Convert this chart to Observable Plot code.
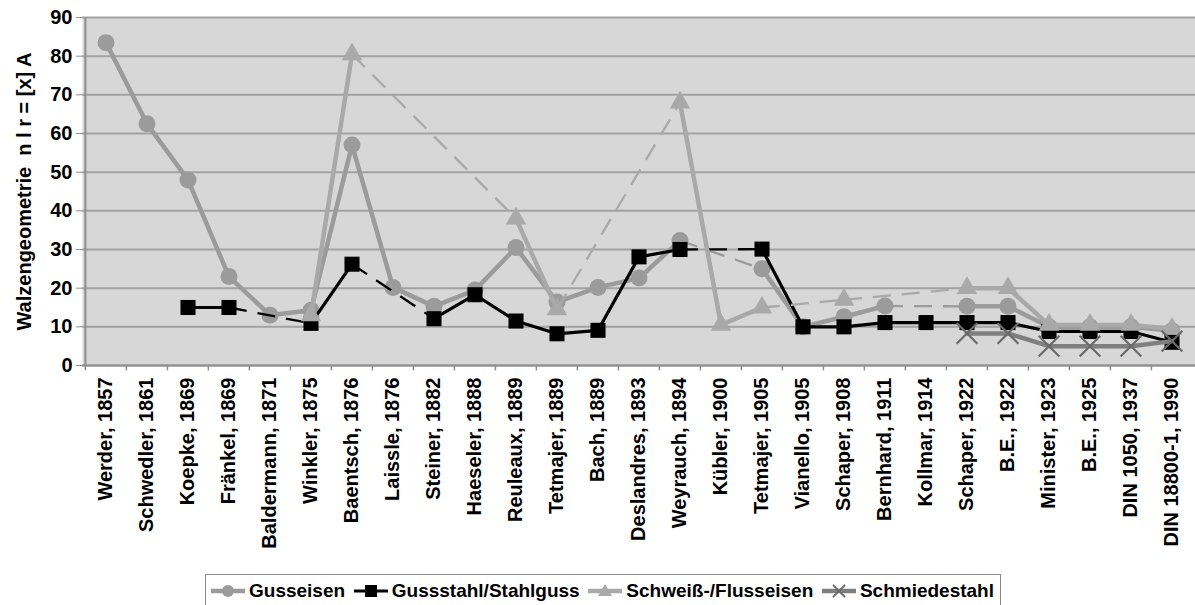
<!DOCTYPE html>
<html><head><meta charset="utf-8">
<script src="https://cdn.jsdelivr.net/npm/d3@7"></script>
<script src="https://cdn.jsdelivr.net/npm/@observablehq/plot@0.6"></script>
<style>
body{margin:0;background:#fff;font-family:"Liberation Sans",Arial,sans-serif;}
#wrap{position:relative;width:1195px;height:605px;overflow:hidden}
#legend{position:absolute;left:205px;top:574px;width:796px;height:34px;border:1px solid #8a8a8a;box-sizing:border-box;display:flex;align-items:center;justify-content:space-between;padding:0 6px 0 3px;font-weight:bold;font-size:19px;color:#000}
#legend .it{display:flex;align-items:center}
#legend svg{margin-right:2px}
</style></head><body><div id="wrap"><div id="chart"></div><div id="legend"></div></div>
<script>
const categories = ["Werder, 1857","Schwedler, 1861","Koepke, 1869","Fränkel, 1869","Baldermann, 1871","Winkler, 1875","Baentsch, 1876","Laissle, 1876","Steiner, 1882","Haeseler, 1888","Reuleaux, 1889","Tetmajer, 1889","Bach, 1889","Deslandres, 1893","Weyrauch, 1894","Kübler, 1900","Tetmajer, 1905","Vianello, 1905","Schaper, 1908","Bernhard, 1911","Kollmar, 1914","Schaper, 1922","B.E., 1922","Minister, 1923","B.E., 1925","DIN 1050, 1937","DIN 18800-1, 1990"];
const seriesNames = ["Gusseisen","Gussstahl/Stahlguss","Schweiß-/Flusseisen","Schmiedestahl"];
const gusseisen      = [83.5,62.5,48,23,13,14.3,57,20.2,15.3,19.5,30.5,16.4,20.2,22.6,32.3,null,25,10,12.6,15.4,null,15.3,15.3,10,10,10,9];
const gussstahl      = [null,null,15,15,null,10.9,26.2,null,12.1,18.3,11.5,8.2,9.1,28.1,30,null,30.1,10,10,11.1,11.1,11.1,11.1,8.8,8.8,8.8,6];
const schweisseisen  = [null,null,null,null,null,13,80.5,null,null,null,38,14.5,null,null,68,10.5,15,null,17,null,null,20,20,10.5,10.5,10.5,9.5];
const schmiedestahl  = [null,null,null,null,null,null,null,null,null,null,null,null,null,null,null,null,null,null,null,null,null,8.3,8.3,5,5,5,6.3];
const yTicks = [0,10,20,30,40,50,60,70,80,90];
const yTitle = "Walzengeometrie  n l r = [x] A";

const styles = [
  {name: seriesNames[0], values: gusseisen, color: "#9b9b9b", width: 4.5, symbol: "circle", r: 8.5, fill: "#9b9b9b", stroke: "none"},
  {name: seriesNames[1], values: gussstahl, color: "#000000", width: 3.2, symbol: "square", r: 8.5, fill: "#000000", stroke: "none"},
  {name: seriesNames[2], values: schweisseisen, color: "#a9a9a9", width: 4.5, symbol: "triangle", r: 7.6, fill: "#a9a9a9", stroke: "none"},
  {name: seriesNames[3], values: schmiedestahl, color: "#7f7f7f", width: 4.5, symbol: "times", r: 9.5, fill: "none", stroke: "#6a6a6a"}
];

function build(s){
  const pts = s.values.map((v,i)=>({x: categories[i], y: v, i})).filter(d=>d.y!=null);
  const solid = [], dashed = [];
  let run = 0;
  for (let k=0;k<pts.length;k++){
    if (k>0 && pts[k].i !== pts[k-1].i+1) {
      run++;
      dashed.push({x1: pts[k-1].x, y1: pts[k-1].y, x2: pts[k].x, y2: pts[k].y});
    }
    solid.push({...pts[k], run});
  }
  return {pts, solid, dashed};
}

const W = 1195, H = 570, ML = 82, MR = 0, MT = 17, MB = 205;
const bw = (W - ML - MR) / categories.length;

const marks = [
  Plot.frame({fill: "#d7d7d7", stroke: null}),
  Plot.gridY(yTicks, {stroke: "#a2a2a2", strokeWidth: 2, strokeOpacity: 1}),
  Plot.ruleX([categories[0]], {dx: -bw/2, stroke: "#8f8f8f", strokeWidth: 2}),
  Plot.ruleY([0], {stroke: "#8f8f8f", strokeWidth: 2}),
  Plot.ruleX(categories, {x: d=>d, y1: 0, y2: -1.4, dx: -bw/2, stroke: "#8f8f8f", strokeWidth: 1.5}),
  Plot.axisY(yTicks, {tickSize: 6, tickPadding: 4, stroke: "#8f8f8f", label: null, fontSize: 20}),
  Plot.axisX({tickSize: 0, tickRotate: -90, tickPadding: 12, label: null, fontSize: 20}),
  Plot.text([yTitle], {frameAnchor: "left", textAnchor: "middle", rotate: -90, dx: -58, fontSize: 20, fill: "#000"})
];
for (const s of styles){
  const b = build(s);
  marks.push(Plot.link(b.dashed, {x1: "x1", y1: "y1", x2: "x2", y2: "y2", stroke: s.color, strokeWidth: 2.3, strokeDasharray: "18,11"}));
  marks.push(Plot.line(b.solid, {x: "x", y: "y", z: "run", stroke: s.color, strokeWidth: s.width, strokeLinejoin: "round"}));
  marks.push(Plot.dot(b.pts, {x: "x", y: "y", symbol: s.symbol, r: s.r, fill: s.fill, stroke: s.stroke, strokeWidth: s.symbol === "times" ? 2.2 : 0}));
}

const chart = Plot.plot({
  width: W, height: H, marginLeft: ML, marginRight: MR, marginTop: MT, marginBottom: MB,
  style: {fontFamily: "'Liberation Sans', Arial, sans-serif", fontWeight: "bold", fontSize: "20px", color: "#000", background: "#fff"},
  x: {type: "band", domain: categories, padding: 0, axis: null},
  y: {domain: [0, 90], axis: null},
  marks
});
document.getElementById("chart").appendChild(chart);

// legend
const leg = document.getElementById("legend");
const symSvg = {
  circle: c => `<circle cx="19" cy="10" r="6" fill="${c}"/>`,
  square: c => `<rect x="13" y="4" width="12" height="12" fill="${c}"/>`,
  triangle: c => `<path d="M19,3 L26,15 L12,15 Z" fill="${c}"/>`,
  times: c => `<path d="M13,4 L25,16 M25,4 L13,16" stroke="${c}" stroke-width="1.8"/>`
};
for (const s of styles){
  const it = document.createElement("div");
  it.className = "it";
  it.innerHTML = `<svg width="38" height="20"><line x1="2" y1="10" x2="36" y2="10" stroke="${s.color}" stroke-width="${s.width}"/>${symSvg[s.symbol](s.symbol==="times"?s.stroke:s.fill)}</svg><span>${s.name}</span>`;
  leg.appendChild(it);
}
</script></body></html>
